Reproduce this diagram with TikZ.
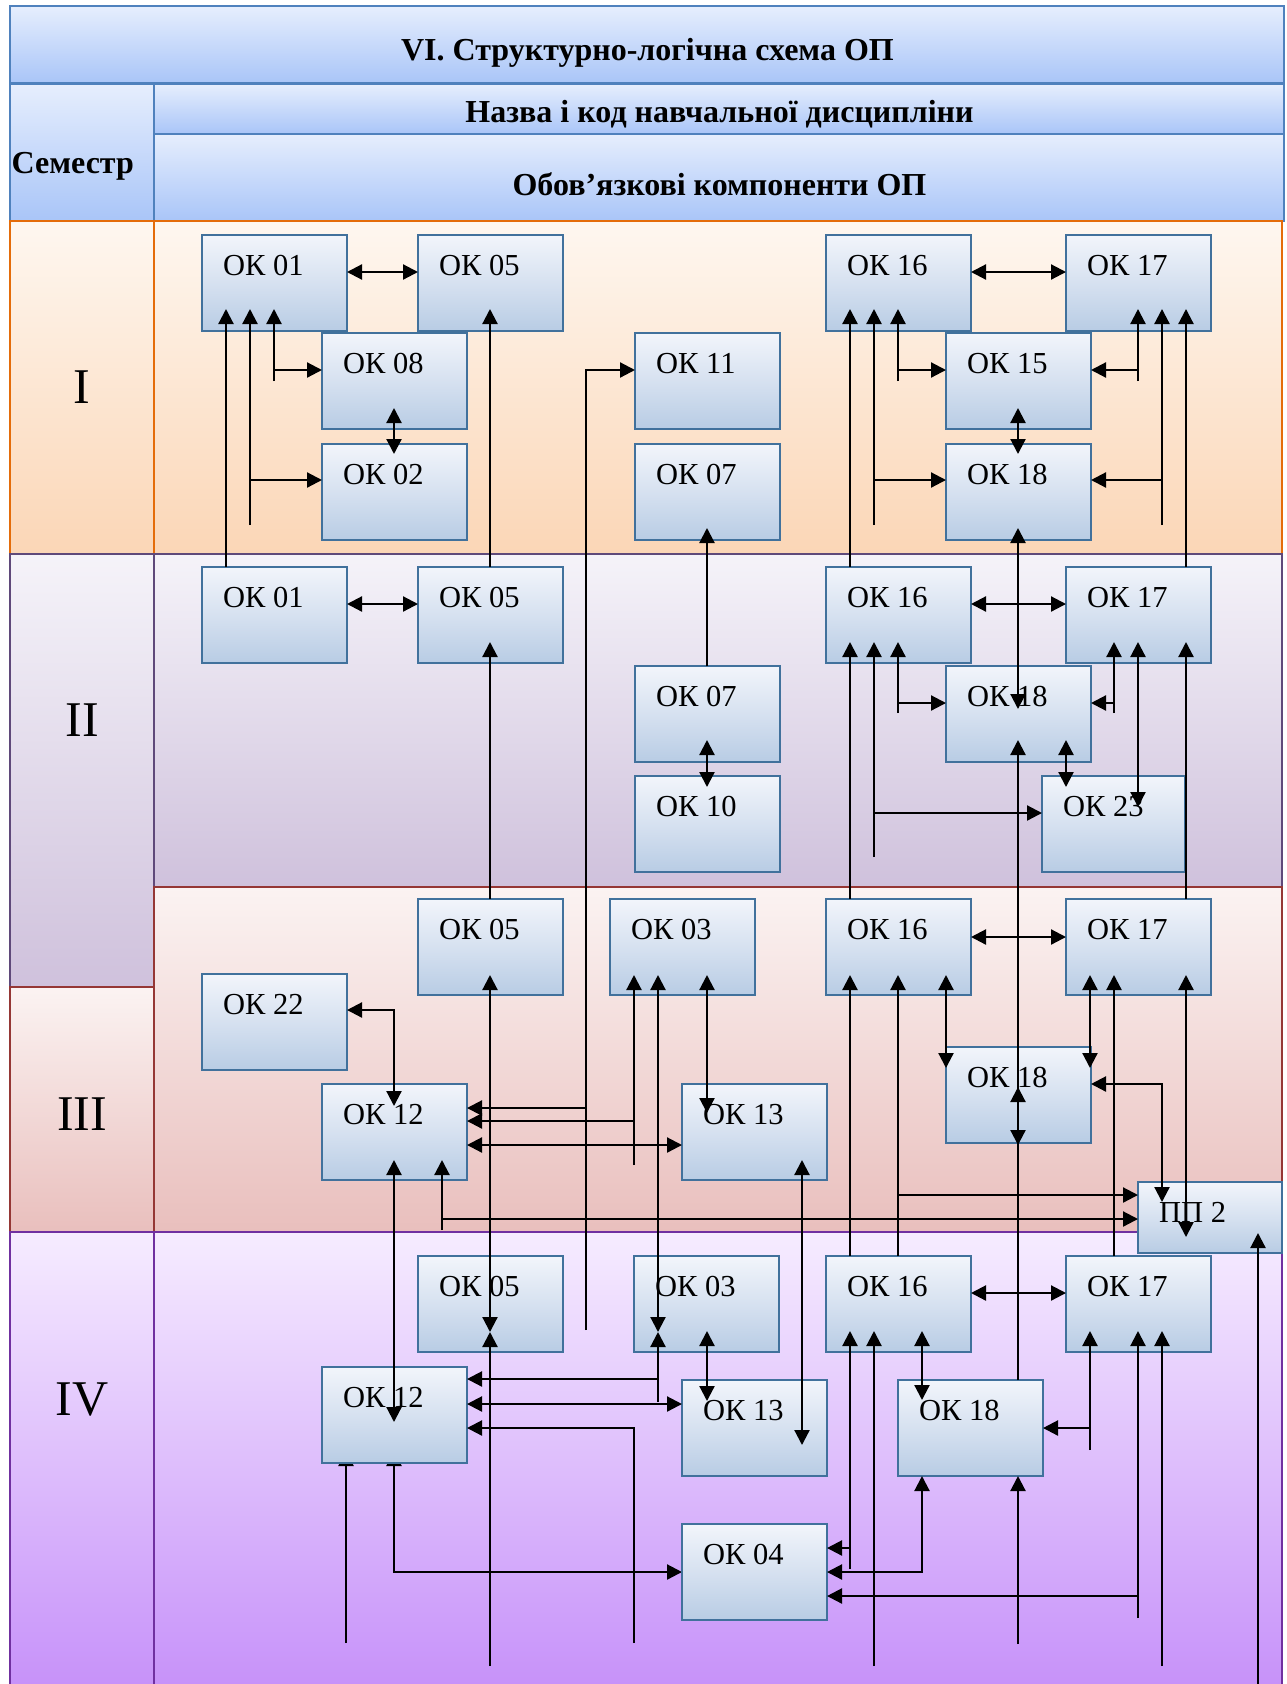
\documentclass[tikz,border=0pt]{standalone}
\usepackage{fontspec}
\setmainfont{Liberation Serif}
\usetikzlibrary{arrows.meta,calc}
\definecolor{boxtop}{HTML}{F2F5FB}
\definecolor{boxmid}{HTML}{D6E1F0}
\definecolor{boxbot}{HTML}{B8CCE4}
\definecolor{boxline}{HTML}{41719C}
\definecolor{hdrtop}{HTML}{E6EEFD}
\definecolor{hdrbot}{HTML}{A9C5F8}
\definecolor{hdrline}{HTML}{4F81BD}
\definecolor{s1top}{HTML}{FEF7F0}
\definecolor{s1bot}{HTML}{FBD6B6}
\definecolor{s1line}{HTML}{E46C0A}
\definecolor{s2top}{HTML}{F5F3F9}
\definecolor{s2bot}{HTML}{CFC1DC}
\definecolor{s2line}{HTML}{5F497A}
\definecolor{s3top}{HTML}{FBF3F2}
\definecolor{s3bot}{HTML}{E9BFBD}
\definecolor{s3line}{HTML}{953735}
\definecolor{s4top}{HTML}{F6ECFF}
\definecolor{s4bot}{HTML}{C690F9}
\definecolor{s4line}{HTML}{7030A0}
\pgfdeclarelayer{back}
\pgfdeclarelayer{mid}
\pgfsetlayers{back,mid,main}
\tikzset{
  okbox/.style={draw=boxline, line width=1.8pt, top color=boxtop, bottom color=boxbot, middle color=boxmid,
    minimum width=145pt, minimum height=96pt, anchor=north west, inner sep=0pt, outer sep=0pt},
  oklbl/.style={anchor=base west, font=\fontsize{30.5}{30.5}\selectfont, inner sep=0pt},
  hdrtxt/.style={anchor=base, font=\bfseries\fontsize{32}{32}\selectfont, inner sep=0pt},
  semtxt/.style={anchor=base, font=\fontsize{50}{50}\selectfont, inner sep=0pt},
  band/.style={anchor=north west, inner sep=0pt, outer sep=0pt, line width=1.8pt},
  hband/.style={band, draw=hdrline, top color=hdrtop, bottom color=hdrbot},
  tip/.tip={Triangle[length=15pt,width=15pt]},
  arr/.style={line width=2.2pt, -tip},
  dbl/.style={line width=2.2pt, tip-tip},
}
\newcommand{\okb}[4][]{%
  \node[okbox,#1] (#2) at (#3) {};
  \node[oklbl] (#2t) at ($(#2.north west)+(21,40.5)$) {#4};}
\begin{document}
\begin{tikzpicture}[x=1pt,y=-1pt]
\useasboundingbox (0,0) rectangle (1287,1684);
\begin{pgfonlayer}{back}
% header
\node[hband, minimum width=1274pt, minimum height=77pt] (hT) at (10,6) {};
\node[hband, minimum width=144pt, minimum height=137pt] (hS) at (10,84) {};
\node[hband, minimum width=1130pt, minimum height=50pt] (hN) at (154,84) {};
\node[hband, minimum width=1130pt, minimum height=87pt] (hO) at (154,134) {};
% semester rows
\node[band, draw=s1line, top color=s1top, bottom color=s1bot, minimum width=1128pt, minimum height=333pt] (r1) at (154,221) {};
\node[band, draw=s1line, top color=s1top, bottom color=s1bot, minimum width=144pt, minimum height=333pt] (c1) at (10,221) {};
\node[band, draw=s2line, top color=s2top, bottom color=s2bot, minimum width=1128pt, minimum height=333pt] (r2) at (154,554) {};
\node[band, draw=s2line, top color=s2top, bottom color=s2bot, minimum width=144pt, minimum height=433pt] (c2) at (10,554) {};
\node[band, draw=s3line, top color=s3top, bottom color=s3bot, minimum width=1128pt, minimum height=345pt] (r3) at (154,887) {};
\node[band, draw=s3line, top color=s3top, bottom color=s3bot, minimum width=144pt, minimum height=245pt] (c3) at (10,987) {};
\node[band, draw=s4line, top color=s4top, bottom color=s4bot, minimum width=1128pt, minimum height=462pt] (r4) at (154,1232) {};
\node[band, draw=s4line, top color=s4top, bottom color=s4bot, minimum width=144pt, minimum height=462pt] (c4) at (10,1232) {};
\end{pgfonlayer}
% header texts
\node[hdrtxt] (ttl) at (647.5,60.5) {VI. Структурно-логічна схема ОП};
\node[hdrtxt] (tN) at (719.5,122.5) {Назва і код навчальної дисципліни};
\node[hdrtxt] (tO) at (719.5,195.5) {Обов’язкові компоненти ОП};
\node[hdrtxt, anchor=base west] (tS) at (11.5,173) {Семестр};
\node[semtxt] (sI) at (82,403.5) {I};
\node[semtxt] (sII) at (82,736.5) {II};
\node[semtxt] (sIII) at (82,1130) {III};
\node[semtxt] (sIV) at (82,1415.5) {IV};
% boxes semester I
\okb{i01}{202,235}{ОК 01}
\okb{i05}{418,235}{ОК 05}
\okb{i16}{826,235}{ОК 16}
\okb{i17}{1066,235}{ОК 17}
\okb{i08}{322,333}{ОК 08}
\okb{i11}{635,333}{ОК 11}
\okb{i15}{946,333}{ОК 15}
\okb{i02}{322,444}{ОК 02}
\okb{i07}{635,444}{ОК 07}
\okb{i18}{946,444}{ОК 18}
% semester II
\okb{ii01}{202,567}{ОК 01}
\okb{ii05}{418,567}{ОК 05}
\okb{ii16}{826,567}{ОК 16}
\okb{ii17}{1066,567}{ОК 17}
\okb{ii07}{635,666}{ОК 07}
\okb{ii18}{946,666}{ОК 18}
\okb{ii10}{635,776}{ОК 10}
\okb[minimum width=143pt]{ii23}{1042,776}{ОК 23}
% semester III
\okb{iii05}{418,899}{ОК 05}
\okb{iii03}{610,899}{ОК 03}
\okb{iii16}{826,899}{ОК 16}
\okb{iii17}{1066,899}{ОК 17}
\okb{iii22}{202,974}{ОК 22}
\okb{iii12}{322,1084}{ОК 12}
\okb{iii13}{682,1084}{ОК 13}
\okb{iii18}{946,1047}{ОК 18}
\okb[minimum width=144pt, minimum height=71pt]{pp2}{1138,1182}{ПП 2}
% semester IV
\okb{iv05}{418,1256}{ОК 05}
\okb{iv03}{634,1256}{ОК 03}
\okb{iv16}{826,1256}{ОК 16}
\okb{iv17}{1066,1256}{ОК 17}
\okb{iv12}{322,1367}{ОК 12}
\okb{iv13}{682,1380}{ОК 13}
\okb{iv18}{898,1380}{ОК 18}
\okb{iv04}{682,1524}{ОК 04}
% connectors hidden behind OK 12 (IV)
\begin{pgfonlayer}{mid}
\draw[arr] (346,1643) -- (iv12.south -| 346,0) -- ++(0,-12);
\draw[dbl] ($(iv12.south -| 394,0)+(0,-12)$) -- (394,1572) -- (iv04.west |- 0,1572);
\end{pgfonlayer}
% ---- semester I connectors
\draw[dbl] (i01.east |- 0,272) -- (i05.west |- 0,272);
\draw[arr] (ii01.north -| 226,0) -- (226,309);
\draw[arr] (250,525) -- (250,309);
\draw[arr] (250,480) -- (i02.west |- 0,480);
\draw[arr] (274,381) -- (274,309);
\draw[arr] (274,370) -- (i08.west |- 0,370);
\draw[arr] (ii05.north -| 490,0) -- (490,309);
\draw[dbl] (394,408) -- (394,454);
\draw[arr] (586,1330) -- (586,370) -- (i11.west |- 0,370);
\draw[arr] (586,1108) -- (iii12.east |- 0,1108);
\draw[arr] (ii07.north -| 707,0) -- (707,528);
\draw[dbl] (i16.east |- 0,272) -- (i17.west |- 0,272);
\draw[arr] (ii16.north -| 850,0) -- (850,309);
\draw[arr] (874,525) -- (874,309);
\draw[arr] (874,480) -- (i18.west |- 0,480);
\draw[arr] (898,381) -- (898,309);
\draw[arr] (898,370) -- (i15.west |- 0,370);
\draw[arr] (1138,381) -- (1138,309);
\draw[arr] (1138,370) -- (i15.east |- 0,370);
\draw[arr] (1162,525) -- (1162,309);
\draw[arr] (1162,480) -- (i18.east |- 0,480);
\draw[arr] (ii17.north -| 1186,0) -- (1186,309);
\draw[dbl] (1018,408) -- (1018,454);
\draw[dbl] (1018,528) -- (1018,709);
% ---- semester II connectors
\draw[dbl] (ii01.east |- 0,604) -- (ii05.west |- 0,604);
\draw[arr] (iii05.north -| 490,0) -- (490,642);
\draw[dbl] (ii16.east |- 0,604) -- (ii17.west |- 0,604);
\draw[arr] (iii16.north -| 850,0) -- (850,642);
\draw[arr] (898,713) -- (898,642);
\draw[arr] (898,703) -- (ii18.west |- 0,703);
\draw[arr] (874,857) -- (874,642);
\draw[arr] (874,813) -- (ii23.west |- 0,813);
\draw[arr] (1114,713) -- (1114,642);
\draw[arr] (1114,703) -- (ii18.east |- 0,703);
\draw[dbl] (1138,642) -- (1138,807);
\draw[arr] (iii17.north -| 1186,0) -- (1186,642);
\draw[dbl] (1066,740) -- (1066,787);
\draw[dbl] (707,740) -- (707,787);
\draw[arr] (iv18.north -| 1018,0) -- (1018,740);
\draw[dbl] (1018,1087) -- (1018,1145);
% ---- semester III connectors
\draw[dbl] (iii16.east |- 0,937) -- (iii17.west |- 0,937);
\draw[dbl] (490,975) -- (490,1332);
\draw[arr] (490,1666) -- (490,1332);
\draw[arr] (634,1165) -- (634,975);
\draw[arr] (634,1121) -- (iii12.east |- 0,1121);
\draw[dbl] (658,975) -- (658,1332);
\draw[arr] (658,1402) -- (658,1332);
\draw[arr] (658,1379) -- (iv12.east |- 0,1379);
\draw[dbl] (707,975) -- (707,1113);
\draw[dbl] (iii22.east |- 0,1010) -- (394,1010) -- (394,1106);
\draw[dbl] (iii12.east |- 0,1145) -- (iii13.west |- 0,1145);
\draw[dbl] (394,1160) -- (394,1422);
\draw[arr] (442,1230) -- (442,1160);
\draw[arr] (442,1219) -- (pp2.west |- 0,1219);
\draw[dbl] (802,1160) -- (802,1445);
\draw[arr] (iv16.north -| 850,0) -- (850,975);
\draw[arr] (iv16.north -| 898,0) -- (898,975);
\draw[arr] (898,1195) -- (pp2.west |- 0,1195);
\draw[dbl] (946,975) -- (946,1068);
\draw[dbl] (1090,975) -- (1090,1068);
\draw[arr] (iv17.north -| 1114,0) -- (1114,975);
\draw[dbl] (1186,975) -- (1186,1237);
\draw[dbl] (iii18.east |- 0,1084) -- (1162,1084) -- (1162,1202);
\draw[arr] (1258,1690) -- (1258,1233);
% ---- semester IV connectors
\draw[dbl] (iv16.east |- 0,1293) -- (iv17.west |- 0,1293);
\draw[dbl] (707,1331) -- (707,1401);
\draw[dbl] (iv12.east |- 0,1404) -- (iv13.west |- 0,1404);
\draw[arr] (634,1643) -- (634,1428) -- (iv12.east |- 0,1428);
\draw[arr] (850,1569) -- (850,1331);
\draw[arr] (850,1548) -- (iv04.east |- 0,1548);
\draw[arr] (874,1666) -- (874,1331);
\draw[dbl] (922,1331) -- (922,1400);
\draw[dbl] (iv18.south -| 922,0) -- (922,1572) -- (iv04.east |- 0,1572);
\draw[arr] (1018,1644) -- (iv18.south -| 1018,0);
\draw[arr] (1090,1450) -- (1090,1331);
\draw[arr] (1090,1428) -- (iv18.east |- 0,1428);
\draw[arr] (1138,1618) -- (1138,1331);
\draw[arr] (1138,1596) -- (iv04.east |- 0,1596);
\draw[arr] (1162,1666) -- (1162,1331);
\end{tikzpicture}
\end{document}
